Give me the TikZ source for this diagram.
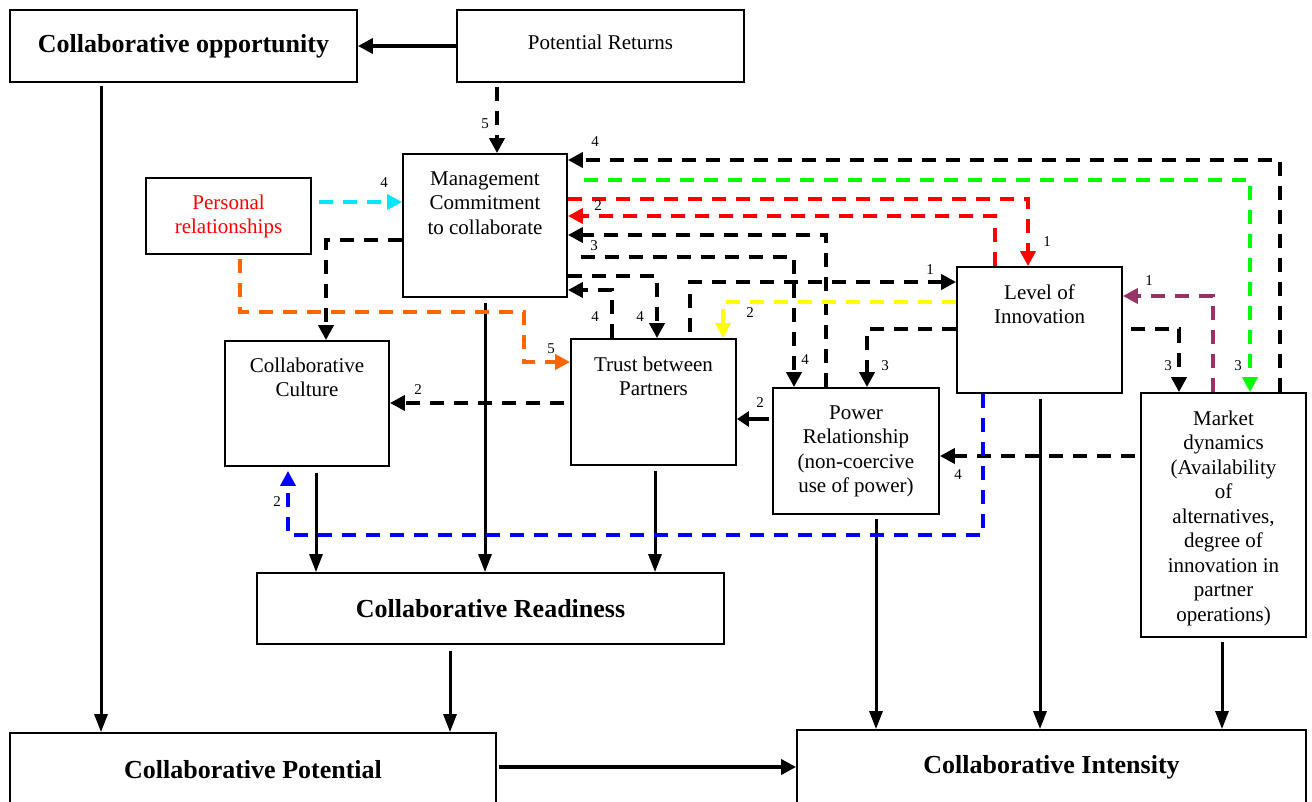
\documentclass[tikz,border=0pt]{standalone}
\usepackage{fontspec}
\setmainfont{Liberation Serif}
\usetikzlibrary{arrows.meta}
\definecolor{orangeline}{RGB}{255,102,0}
\definecolor{plum}{RGB}{153,51,102}
\definecolor{limeline}{RGB}{0,255,0}
\definecolor{cyanline}{RGB}{0,230,255}
\definecolor{yellowline}{RGB}{255,255,0}
\begin{document}
\begin{tikzpicture}[x=1pt,y=-1pt,
  box/.style={draw, line width=1.8pt, fill=white, inner sep=0pt},
  txt/.style={align=center, font=\fontsize{21}{24.5}\selectfont, anchor=north, inner sep=0pt},
  head/.style={font=\fontsize{26}{30}\selectfont\bfseries, inner sep=0pt},
  num/.style={font=\fontsize{15}{17}\selectfont, inner sep=0pt},
  dl/.style={line width=3.8pt, dash pattern=on 14pt off 10pt, -{Triangle[length=15pt,width=15pt]}},
  flow/.style={line width=3pt, -{Triangle[length=18pt,width=13pt]}},
  bigflow/.style={line width=4pt, -{Triangle[length=15pt,width=15pt]}},
]
\useasboundingbox (0,0) rectangle (1312,802);

% boxes
\node[box, minimum width=347pt, minimum height=72pt] (opp) at (183.5,46) {};
\node[box, minimum width=287pt, minimum height=72pt] (ret) at (600.5,46) {};
\node[box, minimum width=164pt, minimum height=143pt] (mgmt) at (485,225.5) {};
\node[box, minimum width=165pt, minimum height=76pt] (pers) at (228.5,216) {};
\node[box, minimum width=164pt, minimum height=125pt] (cult) at (307,403.5) {};
\node[box, minimum width=165pt, minimum height=126pt] (trust) at (653.5,402) {};
\node[box, minimum width=165pt, minimum height=126pt] (innov) at (1039.5,330) {};
\node[box, minimum width=166pt, minimum height=126pt] (power) at (856,451) {};
\node[box, minimum width=165pt, minimum height=244pt] (market) at (1223.5,515) {};
\node[box, minimum width=467pt, minimum height=71pt] (ready) at (490.5,608.5) {};
\node[box, minimum width=486pt, minimum height=72pt] (pot) at (253,769) {};
\node[box, minimum width=509pt, minimum height=75pt] (inten) at (1051.5,767.5) {};

% box texts
\node[head] (oppT) at (183.5,46) {Collaborative opportunity};
\node[font=\fontsize{21}{24}\selectfont, inner sep=0pt] (retT) at (600.5,42) {Potential Returns};
\node[txt] (mgmtT) at (485,171.5) {Management\\Commitment\\to collaborate};
\node[txt, text=red] (persT) at (228.5,194.5) {Personal\\relationships};
\node[txt] (cultT) at (307,357.5) {Collaborative\\Culture};
\node[txt] (trustT) at (653.5,356.5) {Trust between\\Partners};
\node[txt] (innovT) at (1039.5,284.5) {Level of\\Innovation};
\node[txt] (powerT) at (856,405.5) {Power\\Relationship\\(non-coercive\\use of power)};
\node[txt] (marketT) at (1223.5,410.5) {Market\\dynamics\\(Availability\\of\\alternatives,\\degree of\\innovation in\\partner\\operations)};
\node[head] (readyT) at (490.5,609) {Collaborative Readiness};
\node[head] (potT) at (253,770) {Collaborative Potential};
\node[head] (intenT) at (1051.5,767) {Collaborative Intensity};

% solid main flows
\draw[bigflow] (ret.west) -- (opp.east);
\draw[flow, shorten <=3pt] (opp.south -| 101,0) -- (pot.north -| 101,0);
\draw[flow, shorten <=6pt] (ready.south -| 450,0) -- (pot.north -| 450,0);
\draw[flow, shorten <=6pt] (cult.south -| 316,0) -- (ready.north -| 316,0);
\draw[flow, shorten <=5pt] (mgmt.south -| 485,0) -- (ready.north -| 485,0);
\draw[flow, shorten <=5pt] (trust.south -| 655,0) -- (ready.north -| 655,0);
\draw[flow, shorten <=4pt] (power.south -| 876,0) -- (inten.north -| 876,0);
\draw[flow, shorten <=5pt] (innov.south -| 1040,0) -- (inten.north -| 1040,0);
\draw[flow, shorten <=4pt] (market.south -| 1222,0) -- (inten.north -| 1222,0);
\draw[bigflow, shorten <=2pt] (pot.east |- 0,767) -- (inten.west |- 0,767);
\draw[line width=3.8pt, -{Triangle[length=12pt,width=15pt]}, shorten <=3pt] (power.west |- 0,419) -- (trust.east |- 0,419);

% dashed influences
\draw[dl, shorten <=4pt] (ret.south -| 497,0) -- (mgmt.north -| 497,0);
\draw[dl, cyanline, shorten <=7pt] (pers.east |- 0,202) -- (mgmt.west |- 0,202);
\draw[dl] (mgmt.west |- 0,240) -| (cult.north -| 326,0);
\draw[dl, orangeline, shorten <=4pt] (pers.south -| 240,0) |- (524,312) |- (trust.west |- 0,362);
\draw[dl] (market.north -| 1280,0) |- (mgmt.east |- 0,160);
\draw[dl, limeline, shorten <=16pt] (mgmt.east |- 0,180) -| (market.north -| 1250,0);
\draw[dl, red] (mgmt.east |- 0,199) -| (innov.north -| 1028,0);
\draw[dl, red] (innov.north -| 995,0) |- (mgmt.east |- 0,216);
\draw[dl] (power.north -| 826,0) |- (mgmt.east |- 0,235);
\draw[dl, shorten <=13pt] (mgmt.east |- 0,257) -| (power.north -| 794,0);
\draw[dl] (mgmt.east |- 0,276) -| (trust.north -| 657,0);
\draw[dl] (trust.north -| 612,0) |- (mgmt.east |- 0,290);
\draw[dl, shorten <=6pt] (trust.north -| 690,0) |- (innov.west |- 0,282);
\draw[dl, yellowline] (innov.west |- 0,302) -| (trust.north -| 723,0);
\draw[dl] (innov.west |- 0,329) -| (power.north -| 867,0);
\draw[dl, shorten <=8pt] (innov.east |- 0,329) -| (market.north -| 1179,0);
\draw[dl, plum] (market.north -| 1213,0) |- (innov.east |- 0,296);
\draw[dl, shorten <=5pt] (market.west |- 0,456) -- (power.east |- 0,456);
\draw[dl, shorten <=6pt] (trust.west |- 0,403) -- (cult.east |- 0,403);
\draw[dl, blue, shorten >=4pt] (innov.south -| 983,0) |- (288,535) -- (cult.south -| 288,0);

% link weights
\node[num] (w1) at (485,124) {5};
\node[num] (w2) at (384,183) {4};
\node[num] (w3) at (551,349) {5};
\node[num] (w4) at (595,142) {4};
\node[num] (w5) at (1238,366) {3};
\node[num] (w6) at (1047,242) {1};
\node[num] (w7) at (598,206) {2};
\node[num] (w8) at (594,246) {3};
\node[num] (w9) at (805,360) {4};
\node[num] (w10) at (640,317) {4};
\node[num] (w11) at (595,317) {4};
\node[num] (w12) at (930,270) {1};
\node[num] (w13) at (750,313) {2};
\node[num] (w14) at (885,366) {3};
\node[num] (w15) at (1168,366) {3};
\node[num] (w16) at (1149,281) {1};
\node[num] (w17) at (958,475) {4};
\node[num] (w18) at (760,403) {2};
\node[num] (w19) at (418,390) {2};
\node[num] (w20) at (277,502) {2};
\end{tikzpicture}
\end{document}
